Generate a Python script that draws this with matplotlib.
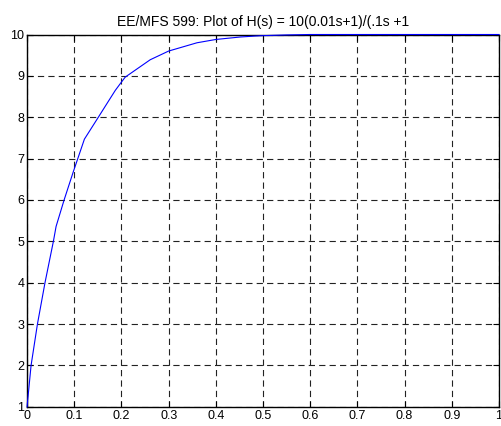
import matplotlib
matplotlib.use("Agg")
import matplotlib.pyplot as plt

# step response
t = [0, 0.0085, 0.022, 0.038, 0.0558, 0.0615, 0.0785, 0.0982, 0.1075, 0.1215,
     0.151, 0.172, 0.187, 0.2, 0.208, 0.261, 0.3, 0.36, 0.4, 0.452,
     0.494, 0.55, 0.6, 1.0]
y = [1, 2, 3, 4, 5, 5.36, 6, 6.69, 7, 7.47,
     8, 8.38, 8.65, 8.85, 8.97, 9.39, 9.60, 9.80, 9.88, 9.94,
     9.97, 9.99, 10.0, 10.0]

xticks = [0, 0.1, 0.2, 0.3, 0.4, 0.5, 0.6, 0.7, 0.8, 0.9, 1]
xticklabels = ['0', '0.1', '0.2', '0.3', '0.4', '0.5', '0.6', '0.7', '0.8', '0.9', '1']
yticks = [1, 2, 3, 4, 5, 6, 7, 8, 9, 10]

plt.rcParams['font.family'] = 'Liberation Sans'
plt.rcParams['lines.scale_dashes'] = False

fig = plt.figure(figsize=(5.01, 4.26), dpi=100)
ax = fig.add_axes([0.054, 0.045, 0.942, 0.874])

ax.plot(t, y, color='#0000ff', lw=0.8, clip_on=False, zorder=3)

ax.set_xlim(0, 1)
ax.set_ylim(1, 10)
ax.set_xticks(xticks)
ax.set_xticklabels(xticklabels)
ax.set_yticks(yticks)

ax.grid(True, color='#222222', lw=0.8, linestyle=(0, (4.5, 3.0)))
ax.tick_params(direction='in', length=4, width=0.8, top=True, right=True,
               labelsize=9, pad=2, colors='black')
for s in ax.spines.values():
    s.set_linewidth(1.0)
    s.set_color('black')

ax.set_title('EE/MFS 599: Plot of H(s) = 10(0.01s+1)/(.1s +1', fontsize=10, pad=6)

fig.savefig('out.png', dpi=100)
